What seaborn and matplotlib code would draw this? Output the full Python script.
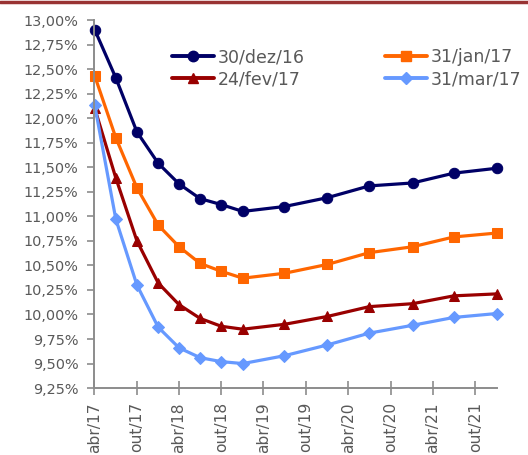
"""Curva de juros (DI) em quatro datas de referencia."""

import matplotlib.pyplot as plt
import matplotlib.ticker as mticker
from matplotlib.lines import Line2D
import pandas as pd
import seaborn as sns

# vertices da curva (primeiro dia util de cada mes de vencimento)
vertices = [
    "2017-04-03", "2017-07-03", "2017-10-02", "2018-01-02", "2018-04-02",
    "2018-07-02", "2018-10-01", "2019-01-02", "2019-07-01", "2020-01-02",
    "2020-07-01", "2021-01-04", "2021-07-01", "2022-01-03",
]

series_labels = ["30/dez/16", "31/jan/17", "24/fev/17", "31/mar/17"]

taxa_dez16 = [12.90, 12.41, 11.86, 11.54, 11.33, 11.18, 11.12, 11.05, 11.10, 11.19, 11.31, 11.34, 11.44, 11.49]
taxa_jan17 = [12.43, 11.80, 11.29, 10.91, 10.69, 10.52, 10.44, 10.37, 10.42, 10.51, 10.63, 10.69, 10.79, 10.83]
taxa_fev17 = [12.10, 11.39, 10.75, 10.32, 10.10, 9.96, 9.88, 9.85, 9.90, 9.98, 10.08, 10.11, 10.19, 10.21]
taxa_mar17 = [12.13, 10.97, 10.30, 9.87, 9.66, 9.56, 9.52, 9.50, 9.58, 9.69, 9.81, 9.89, 9.97, 10.01]

tick_dates = [
    "2017-04-01", "2017-10-01", "2018-04-01", "2018-10-01", "2019-04-01",
    "2019-10-01", "2020-04-01", "2020-10-01", "2021-04-01", "2021-10-01",
]
tick_labels = ["abr/17", "out/17", "abr/18", "out/18", "abr/19",
               "out/19", "abr/20", "out/20", "abr/21", "out/21"]

y_ticks = [9.25 + 0.25 * i for i in range(16)]

colors = ["#000066", "#FF6600", "#990000", "#6699FF"]
markers = ["o", "s", "^", "D"]
marker_sizes = [7.5, 7.5, 7.5, 6]


def main() -> None:
    sns.set_theme(style="white")
    plt.rcParams["font.family"] = ["DejaVu Sans"]

    df = pd.DataFrame(
        {
            "vencimento": pd.to_datetime(vertices * 4),
            "taxa": taxa_dez16 + taxa_jan17 + taxa_fev17 + taxa_mar17,
            "data": sum([[label] * len(vertices) for label in series_labels], []),
        }
    )

    fig = plt.figure(figsize=(5.28, 4.55), dpi=100)
    ax = fig.add_axes([0.1786, 0.147, 0.7625, 0.809])

    for label, color, marker, size in zip(series_labels, colors, markers, marker_sizes):
        sub = df[df["data"] == label]
        sns.lineplot(
            data=sub, x="vencimento", y="taxa", color=color, marker=marker,
            markersize=size, markeredgecolor=color, linewidth=2.3, ax=ax,
            clip_on=False, legend=False,
        )

    ax.set_xlim(pd.Timestamp("2017-04-01"), pd.Timestamp("2022-01-03"))
    ax.set_ylim(9.25, 13.0)
    ax.set_yticks(y_ticks)
    ax.yaxis.set_major_formatter(
        mticker.FuncFormatter(lambda v, _: f"{v:.2f}%".replace(".", ","))
    )
    ax.set_xticks(pd.to_datetime(tick_dates))
    ax.set_xticklabels(tick_labels, rotation=90, va="top", ha="center")
    ax.set_xlabel("")
    ax.set_ylabel("")

    for side in ["top", "right"]:
        ax.spines[side].set_visible(False)
    for side in ["left", "bottom"]:
        ax.spines[side].set_color("#8c8c8c")
        ax.spines[side].set_linewidth(1.4)

    ax.tick_params(axis="y", direction="out", length=5, width=1.2, color="#8c8c8c",
                   labelsize=10.4, labelcolor="#595959", pad=6.5, left=True)
    ax.tick_params(axis="x", direction="inout", length=10, width=1.2, color="#8c8c8c",
                   labelsize=11.2, labelcolor="#595959", pad=5, bottom=True)

    handles = [
        Line2D([], [], color=c, marker=m, markersize=s, linewidth=2.8)
        for c, m, s in zip(colors, markers, marker_sizes)
    ]
    order = [0, 2, 1, 3]
    ax.legend(
        [handles[i] for i in order], [series_labels[i] for i in order],
        ncol=2, loc="upper left", bbox_to_anchor=(172 / 528, 1 - 48 / 455),
        bbox_transform=fig.transFigure, frameon=False, fontsize=12.5,
        handlelength=2.4, handletextpad=0.25, columnspacing=4.6,
        labelspacing=0.26, borderaxespad=0, borderpad=0,
        labelcolor="#595959",
    )

    # faixa vermelha no topo
    fig.add_artist(Line2D([0, 1], [1 - 1.5 / 455] * 2, transform=fig.transFigure,
                          color="#993333", linewidth=2.5))

    fig.savefig("out.png", dpi=100)
    plt.close(fig)


if __name__ == "__main__":
    main()
